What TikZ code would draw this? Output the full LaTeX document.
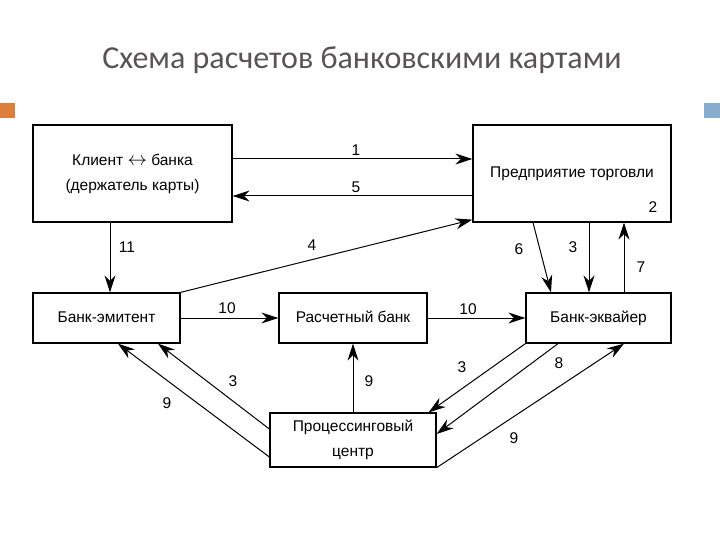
\documentclass[tikz,border=0pt]{standalone}
\usepackage{fontspec}
\usepackage{graphicx}
\setmainfont{Liberation Sans}
\newfontfamily\titlefont{Carlito}
\usetikzlibrary{arrows.meta}
\definecolor{titlegray}{RGB}{88,84,84}
\definecolor{sqorange}{RGB}{222,126,60}
\definecolor{sqblue}{RGB}{136,172,206}
\tikzset{
  box/.style={draw=black, line width=1.3pt, rectangle, inner sep=0pt, align=center,
    font=\fontsize{15.5}{25}\selectfont},
  onebox/.style={box, text height=11.5pt, text depth=3.5pt},
  conn/.style={line width=1pt, -{Stealth[length=17pt,width=11pt,inset=5.5pt]}},
  lbl/.style={inner sep=0pt, font=\fontsize{15.5}{18}\selectfont},
}
\begin{document}
\begin{tikzpicture}[x=1pt,y=-1pt]
\useasboundingbox (0,0) rectangle (720,540);
% title and corner squares
\node[anchor=base, text=titlegray, font=\titlefont\fontsize{32}{38}\selectfont] (title) at (362,69) {Схема расчетов банковскими картами};
\fill[sqorange] (0,103) rectangle (15,118);
\fill[sqblue] (704,103) rectangle (720,118);
% boxes
\node[box, minimum width=199pt, minimum height=97pt] (client) at (132.5,173.5) {Клиент \raisebox{-0.5pt}{\scalebox{1.35}{$\leftrightarrow$}} банка\\(держатель карты)};
\node[onebox, minimum width=198pt, minimum height=97pt] (pred) at (572,173.5) {Предприятие торговли};
\node[onebox, minimum width=147pt, minimum height=50pt] (emit) at (106.5,318) {Банк-эмитент};
\node[onebox, minimum width=148pt, minimum height=50pt] (rasch) at (353,318) {Расчетный банк};
\node[onebox, minimum width=145pt, minimum height=50pt] (ekv) at (598.5,318) {Банк-эквайер};
\node[box, minimum width=166pt, minimum height=54pt] (proc) at (353,440) {Процессинговый\\центр};
% connectors
\draw[conn] ([yshift=14.5pt]client.east) -- ([yshift=14.5pt]pred.west);
\draw[conn] ([yshift=-22.5pt]pred.west) -- ([yshift=-22.5pt]client.east);
\draw[conn] ([xshift=-22.5pt]client.south) -- ([xshift=-22.5pt]client.south |- emit.north);
\draw[conn] (emit.north east) -- ([yshift=3pt]pred.south west);
\draw[conn] ([xshift=-39pt]pred.south) -- ([xshift=-47.5pt]ekv.north);
\draw[conn] ([xshift=17pt]pred.south) -- ([xshift=17pt]pred.south |- ekv.north);
\draw[conn] ([xshift=25.5pt]ekv.north) -- ([xshift=25.5pt]ekv.north |- pred.south);
\draw[conn] (emit.east) -- (rasch.west);
\draw[conn] (rasch.east) -- (ekv.west);
\draw[conn] (proc.north) -- (proc.north |- rasch.south);
\draw[conn] ([yshift=11pt]proc.west) -- ([xshift=51.5pt]emit.south);
\draw[conn] ([yshift=-17pt]proc.west) -- ([xshift=11.5pt]emit.south);
\draw[conn] (ekv.south west) -- ([xshift=-8pt]proc.north east);
\draw[conn] ([xshift=-40.5pt]ekv.south) -- ([yshift=6pt]proc.east);
\draw[conn] (proc.south east) -- ([xshift=25.5pt]ekv.south);
% labels
\node[lbl] (l1) at (356,150) {1};
\node[lbl] (l5) at (356,187) {5};
\node[lbl] (l2) at (653,207) {2};
\node[lbl] (l11) at (127,247) {11};
\node[lbl] (l4) at (312,245) {4};
\node[lbl] (l6) at (519,249) {6};
\node[lbl] (l3a) at (573,247) {3};
\node[lbl] (l7) at (641,267) {7};
\node[lbl] (l10a) at (227,308) {10};
\node[lbl] (l10b) at (468,309) {10};
\node[lbl] (l9a) at (369,381) {9};
\node[lbl] (l3b) at (233,381) {3};
\node[lbl] (l9b) at (167,403) {9};
\node[lbl] (l3c) at (462,367) {3};
\node[lbl] (l8) at (559,363) {8};
\node[lbl] (l9c) at (514,438) {9};
\end{tikzpicture}
\end{document}
